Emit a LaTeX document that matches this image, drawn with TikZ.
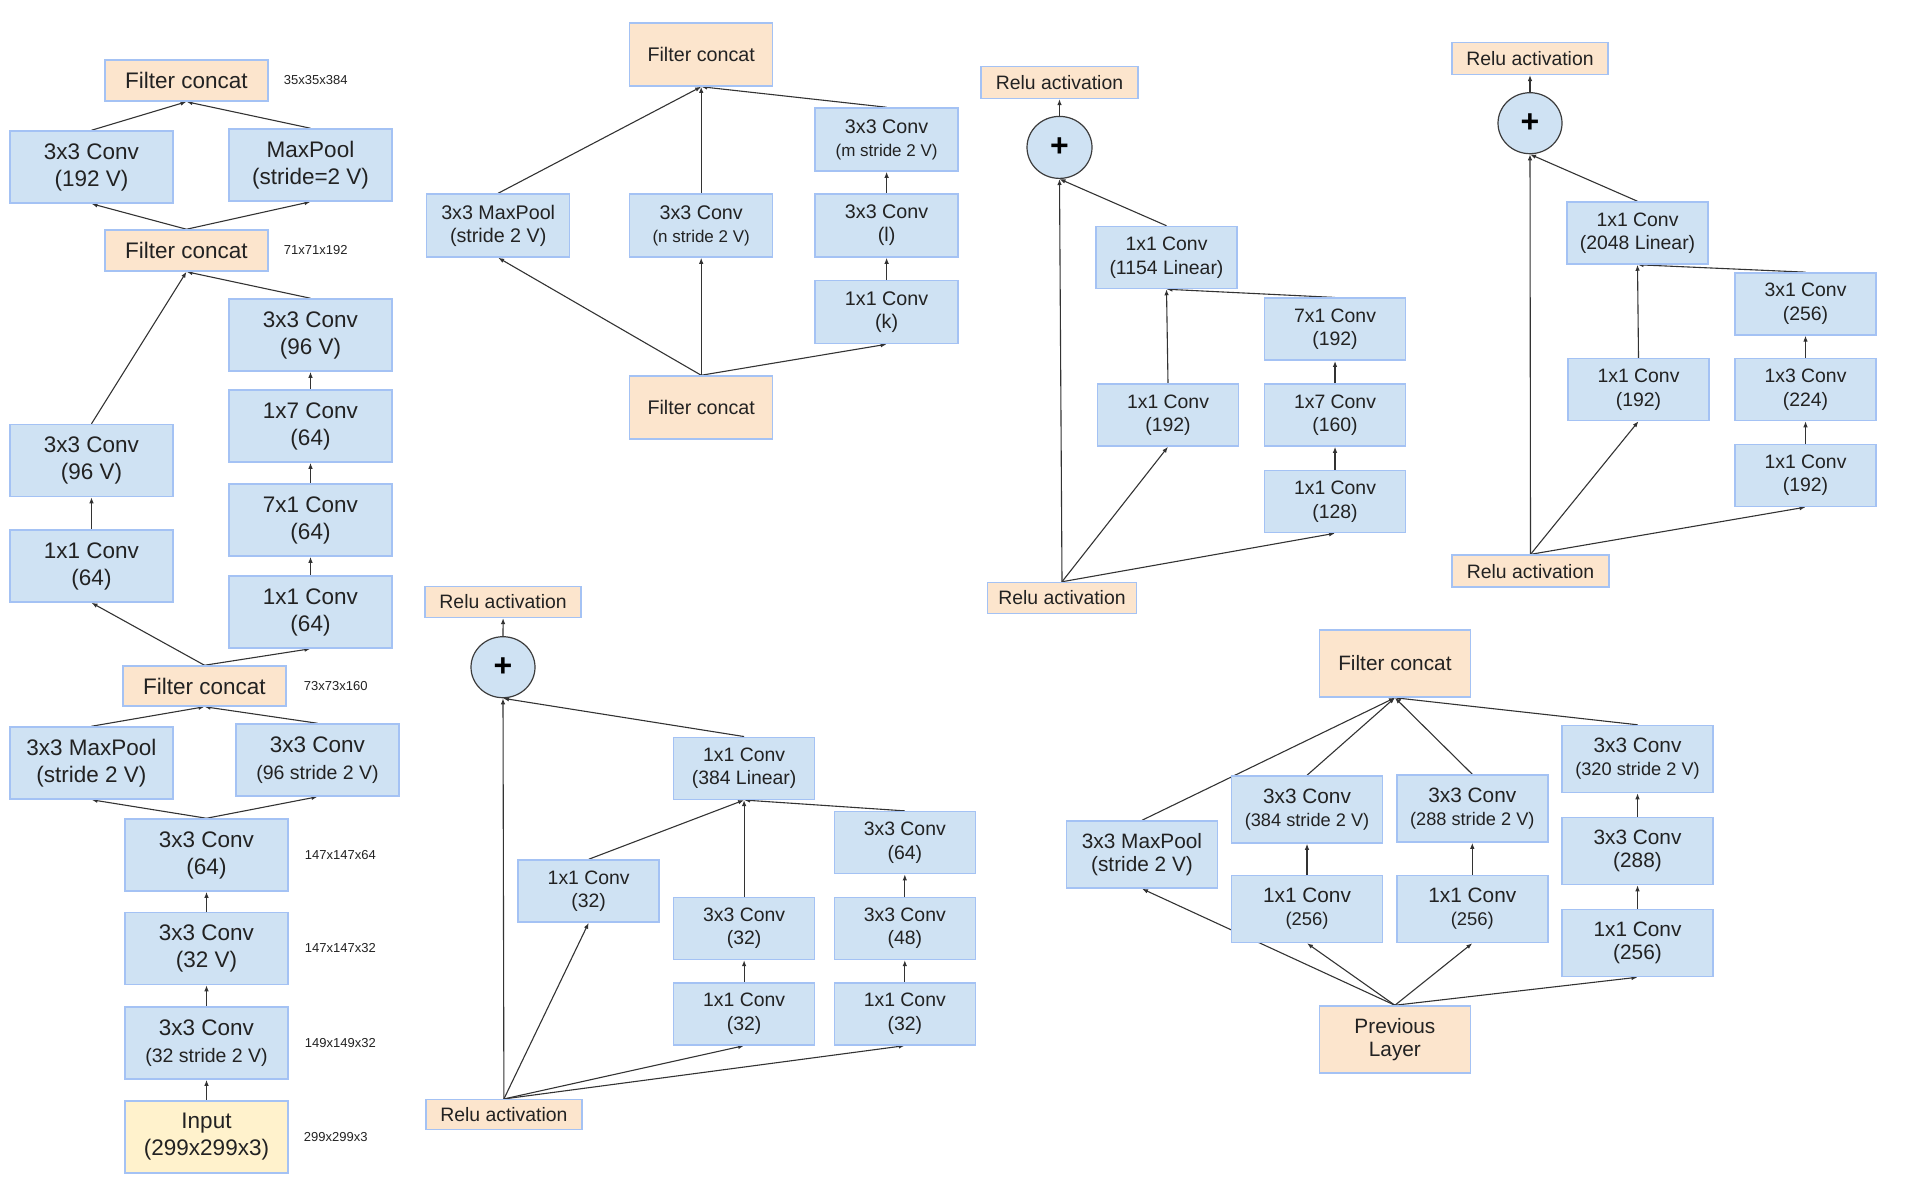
\documentclass[tikz,border=0pt]{standalone}
\usepackage{fontspec}
\setmainfont{Liberation Sans}
\usetikzlibrary{positioning, arrows.meta, shapes.geometric, backgrounds}

\definecolor{convblue}{HTML}{CFE2F3}
\definecolor{catorange}{HTML}{FCE5CD}
\definecolor{inputyellow}{HTML}{FFF2CC}
\definecolor{edgeblue}{HTML}{A4C2F4}
\definecolor{txt}{HTML}{222222}
\definecolor{circline}{HTML}{3C3C3C}

\newcommand{\boxfont}[2]{\fontsize{#1}{#2}\selectfont}

\tikzset{
    box/.style={draw=edgeblue, line width=1.5pt, inner sep=0pt, align=center, text=txt},
    conv/.style={box, fill=convblue},
    cat/.style={box, fill=catorange},
    flow/.style={-{Latex[length=6pt,width=4.5pt]}, line width=1.1pt, draw=black!80},
    sum/.style={ellipse, draw=circline, fill=convblue, line width=1.2pt, inner sep=0pt,
        font=\boxfont{32}{32}\bfseries, text=black},
    dims/.style={font=\boxfont{13}{13}, text=txt, inner sep=0pt},
    stem/.style={minimum width=163pt, minimum height=72pt, font=\boxfont{22.5}{27}},
    reda/.style={minimum width=143pt, minimum height=63pt, font=\boxfont{19.7}{23}},
    res/.style={minimum width=141pt, minimum height=62pt, font=\boxfont{19.4}{23.5}},
    redb/.style={minimum width=151pt, minimum height=67pt, font=\boxfont{20.8}{23}},
}

\begin{document}
\begin{tikzpicture}[x=1pt, y=-1pt]
    \useasboundingbox (0,0) rectangle (1908,1202);

    % stem
    \node[box, fill=inputyellow, stem] (s1) at (206.5,1137) {Input\\(299x299x3)};
    \node[conv, stem] (s2) at (206.5,1043) {3x3 Conv\\{\boxfont{19.5}{24}(32 stride 2 V)}};
    \node[conv, stem] (s3) at (206.5,948.5) {3x3 Conv\\(32 V)};
    \node[conv, stem] (s4) at (206.5,855) {3x3 Conv\\(64)};
    \node[conv, stem] (s5) at (91.5,763) {3x3 MaxPool\\(stride 2 V)};
    \node[conv, stem] (s6) at (317.5,760) {3x3 Conv\\{\boxfont{19.5}{24}(96 stride 2 V)}};
    \node[cat, stem, minimum height=40pt] (s7) at (204.5,686) {Filter concat};
    \node[conv, stem] (s8) at (91.5,566) {1x1 Conv\\(64)};
    \node[conv, stem] (s9) at (91.5,460.5) {3x3 Conv\\(96 V)};
    \node[conv, stem] (s10) at (310.5,612) {1x1 Conv\\(64)};
    \node[conv, stem] (s11) at (310.5,520) {7x1 Conv\\(64)};
    \node[conv, stem] (s12) at (310.5,426) {1x7 Conv\\(64)};
    \node[conv, stem] (s13) at (310.5,335) {3x3 Conv\\(96 V)};
    \node[cat, stem, minimum height=41pt] (s14) at (186.5,250.5) {Filter concat};
    \node[conv, stem] (s15) at (91.5,167) {3x3 Conv\\(192 V)};
    \node[conv, stem] (s16) at (310.5,165) {MaxPool\\(stride=2 V)};
    \node[cat, stem, minimum height=41pt] (s17) at (186.5,80.5) {Filter concat};

    \node[dims, right=15pt of s17] (d17) {35x35x384};
    \node[dims, right=15pt of s14] (d14) {71x71x192};
    \node[dims, right=17pt of s7] (d7) {73x73x160};
    \node[dims, right=16pt of s4] (d4) {147x147x64};
    \node[dims, right=16pt of s3] (d3) {147x147x32};
    \node[dims, right=16pt of s2] (d2) {149x149x32};
    \node[dims, right=15pt of s1] (d1) {299x299x3};

    % reduction with k, l, m, n
    \node[cat, reda] (r0) at (701.2,407.5) {Filter concat};
    \node[conv, reda] (r1) at (498.2,225.5) {3x3 MaxPool\\(stride 2 V)};
    \node[conv, reda] (r2) at (701.2,225.5) {3x3 Conv\\{\boxfont{17}{21}(n stride 2 V)}};
    \node[conv, reda] (r3) at (886.6,312) {1x1 Conv\\(k)};
    \node[conv, reda] (r4) at (886.6,225.5) {3x3 Conv\\(l)};
    \node[conv, reda] (r5) at (886.6,139.5) {3x3 Conv\\{\boxfont{17}{21}(m stride 2 V)}};
    \node[cat, reda] (r6) at (701.2,54.5) {Filter concat};

    % residual block, 1154
    \node[cat, res, minimum width=149pt, minimum height=31pt] (b0) at (1062,598) {Relu activation};
    \node[conv, res] (b1) at (1168,415) {1x1 Conv\\(192)};
    \node[conv, res] (b2) at (1335,501.5) {1x1 Conv\\(128)};
    \node[conv, res] (b3) at (1335,415) {1x7 Conv\\(160)};
    \node[conv, res] (b4) at (1335,329.2) {7x1 Conv\\(192)};
    \node[conv, res] (b5) at (1166.5,257.5) {1x1 Conv\\(1154 Linear)};
    \node[sum, minimum width=65pt, minimum height=62pt] (b6) at (1059.5,147.4) {+};
    \node[cat, res, minimum width=157pt, minimum height=32pt] (b7) at (1059.5,82.3) {Relu activation};

    % residual block, 2048
    \node[cat, res, minimum width=157pt, minimum height=32pt] (c0) at (1530.5,571.1) {Relu activation};
    \node[conv, res] (c1) at (1638.5,389.5) {1x1 Conv\\(192)};
    \node[conv, res] (c2) at (1805.5,475.4) {1x1 Conv\\(192)};
    \node[conv, res] (c3) at (1805.5,389.5) {1x3 Conv\\(224)};
    \node[conv, res] (c4) at (1805.5,303.9) {3x1 Conv\\(256)};
    \node[conv, res] (c5) at (1637.5,233) {1x1 Conv\\(2048 Linear)};
    \node[sum, minimum width=64pt, minimum height=61pt] (c6) at (1530,123.2) {+};
    \node[cat, res, minimum width=156pt, minimum height=32pt] (c7) at (1530,58.3) {Relu activation};

    % residual block, 384
    \node[cat, res, minimum width=156pt, minimum height=30pt] (a0) at (503.9,1114.7) {Relu activation};
    \node[conv, res] (a1) at (588.7,891) {1x1 Conv\\(32)};
    \node[conv, res] (a2) at (744.1,1013.9) {1x1 Conv\\(32)};
    \node[conv, res] (a3) at (744.1,928.4) {3x3 Conv\\(32)};
    \node[conv, res] (a4) at (904.8,1013.9) {1x1 Conv\\(32)};
    \node[conv, res] (a5) at (904.8,928.4) {3x3 Conv\\(48)};
    \node[conv, res] (a6) at (904.8,842.6) {3x3 Conv\\(64)};
    \node[conv, res] (a7) at (744.1,768.3) {1x1 Conv\\(384 Linear)};
    \node[sum, minimum width=64pt, minimum height=61pt] (a8) at (503,667.2) {+};
    \node[cat, res, minimum width=156pt, minimum height=31pt] (a9) at (503.1,601.8) {Relu activation};

    % reduction, 384/288/320
    \node[cat, redb] (e0) at (1394.9,1039.5) {Previous\\Layer};
    \node[conv, redb] (e1) at (1142,854.5) {3x3 MaxPool\\(stride 2 V)};
    \node[conv, redb] (e2) at (1307,909) {1x1 Conv\\{\boxfont{18.4}{22}(256)}};
    \node[conv, redb] (e3) at (1307,809.5) {3x3 Conv\\{\boxfont{18.2}{22}(384 stride 2 V)}};
    \node[conv, redb] (e4) at (1472.3,909) {1x1 Conv\\{\boxfont{18.4}{22}(256)}};
    \node[conv, redb] (e5) at (1472.3,808.5) {3x3 Conv\\{\boxfont{18.2}{22}(288 stride 2 V)}};
    \node[conv, redb] (e6) at (1637.5,943) {1x1 Conv\\(256)};
    \node[conv, redb] (e7) at (1637.5,851) {3x3 Conv\\(288)};
    \node[conv, redb] (e8) at (1637.5,759) {3x3 Conv\\{\boxfont{18.2}{22}(320 stride 2 V)}};
    \node[cat, redb] (e9) at (1394.9,663.5) {Filter concat};

    \begin{scope}[on background layer]
    \draw[flow]
        (s1.north) edge (s2.south)
        (s2.north) edge (s3.south)
        (s3.north) edge (s4.south)
        (s4.north) edge (s5.south)
        (s4.north) edge (s6.south)
        (s5.north) edge (s7.south)
        (s6.north) edge (s7.south)
        (s7.north) edge (s8.south)
        (s7.north) edge (s10.south)
        (s8.north) edge (s9.south)
        (s10.north) edge (s11.south)
        (s11.north) edge (s12.south)
        (s12.north) edge (s13.south)
        (s9.north) edge (s14.south)
        (s13.north) edge (s14.south)
        (s14.north) edge (s15.south)
        (s14.north) edge (s16.south)
        (s15.north) edge (s17.south)
        (s16.north) edge (s17.south)
        ;
    \draw[flow]
        (r0.north) edge (r1.south)
        (r0.north) edge (r2.south)
        (r0.north) edge (r3.south)
        (r3.north) edge (r4.south)
        (r4.north) edge (r5.south)
        (r1.north) edge (r6.south)
        (r2.north) edge (r6.south)
        (r5.north) edge (r6.south)
        ;
    \draw[flow]
        (b0.north) edge (b6.south)
        (b0.north) edge (b1.south)
        (b0.north) edge (b2.south)
        (b2.north) edge (b3.south)
        (b3.north) edge (b4.south)
        (b1.north) edge (b5.south)
        (b4.north) edge (b5.south)
        (b5.north) edge (b6.south)
        (b6.north) edge (b7.south)
        ;
    \draw[flow]
        (c0.north) edge (c6.south)
        (c0.north) edge (c1.south)
        (c0.north) edge (c2.south)
        (c2.north) edge (c3.south)
        (c3.north) edge (c4.south)
        (c1.north) edge (c5.south)
        (c4.north) edge (c5.south)
        (c5.north) edge (c6.south)
        (c6.north) edge (c7.south)
        ;
    \draw[flow]
        (a0.north) edge (a8.south)
        (a0.north) edge (a1.south)
        (a0.north) edge (a2.south)
        (a0.north) edge (a4.south)
        (a2.north) edge (a3.south)
        (a4.north) edge (a5.south)
        (a5.north) edge (a6.south)
        (a1.north) edge (a7.south)
        (a3.north) edge (a7.south)
        (a6.north) edge (a7.south)
        (a7.north) edge (a8.south)
        (a8.north) edge (a9.south)
        ;
    \draw[flow]
        (e0.north) edge (e1.south)
        (e0.north) edge (e2.south)
        (e0.north) edge (e4.south)
        (e0.north) edge (e6.south)
        (e2.north) edge (e3.south)
        (e4.north) edge (e5.south)
        (e6.north) edge (e7.south)
        (e7.north) edge (e8.south)
        (e1.north) edge (e9.south)
        (e3.north) edge (e9.south)
        (e5.north) edge (e9.south)
        (e8.north) edge (e9.south)
        ;
    \end{scope}
\end{tikzpicture}
\end{document}
